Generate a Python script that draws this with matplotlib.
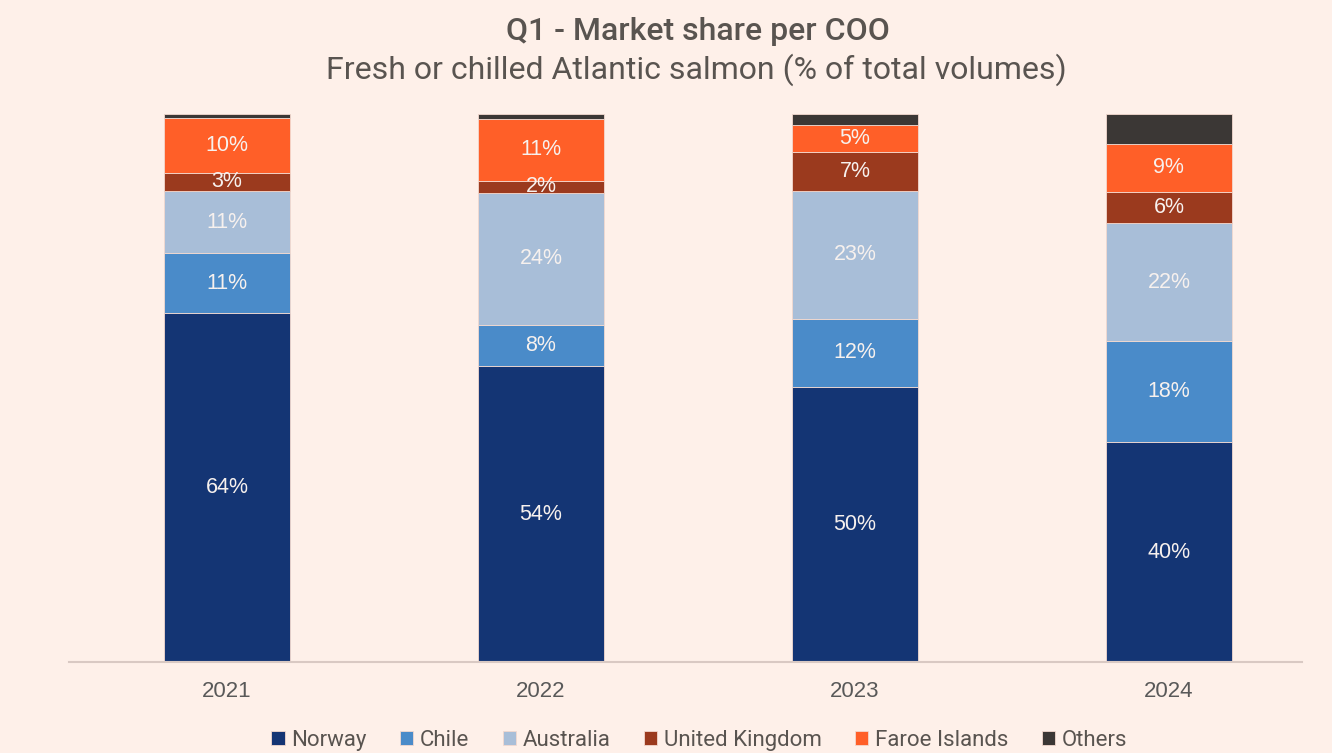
import matplotlib.pyplot as plt
import numpy as np

years = ["2021", "2022", "2023", "2024"]
countries = ["Norway", "Chile", "Australia", "United Kingdom", "Faroe Islands", "Others"]
norway = [63.7, 54.0, 50.2, 40.1]
chile = [10.9, 7.5, 12.4, 18.4]
australia = [11.3, 24.1, 23.4, 21.6]
uk = [3.4, 2.2, 7.1, 5.7]
faroe = [10.0, 11.3, 4.9, 8.8]
others = [0.7, 0.9, 2.0, 5.4]

series = [norway, chile, australia, uk, faroe, others]
colors = ["#143574", "#4A8BC9", "#A8BED8", "#9B3A1E", "#FF5F28", "#3B3735"]
bg = "#FEF0E9"
txt = "#595450"

fig = plt.figure(figsize=(13.32, 7.53), dpi=100, facecolor=bg)
ax = fig.add_axes([0.0518, 0.1208, 0.9257, 0.7278], facecolor=bg)

x = np.arange(len(years))
bottom = np.zeros(len(years))
for name, vals, col in zip(countries, series, colors):
    vals = np.array(vals)
    ax.bar(x, vals, 0.4, bottom=bottom, color=col, label=name,
           edgecolor="#F3D9CF", linewidth=0.6)
    if name != "Others":
        for xi, b, v in zip(x, bottom, vals):
            ax.text(xi, b + v / 2, f"{round(v):.0f}%", ha="center", va="center",
                    color="#F7F1EE", fontsize=15.5, family="Liberation Sans")
    bottom += vals

ax.set_xlim(-0.503, 3.424)
ax.set_ylim(0, 100)
ax.set_xticks(x)
ax.set_xticklabels(years, fontsize=16, color="#595959", family="Liberation Sans")
ax.tick_params(axis="x", length=0, pad=14)
ax.set_yticks([])
for s in ["top", "right", "left"]:
    ax.spines[s].set_visible(False)
ax.spines["bottom"].set_color("#D9C9C3")
ax.spines["bottom"].set_linewidth(1.5)

fig.text(0.524, 0.958, "Q1 - Market share per COO", ha="center", va="center",
         fontsize=23, color=txt, fontweight="medium", family="Roboto")
fig.text(0.523, 0.908, "Fresh or chilled Atlantic salmon (% of total volumes)",
         ha="center", va="center", fontsize=23, color=txt, family="Roboto")

leg = fig.legend(loc="center", bbox_to_anchor=(0.525, 0.017), ncol=6, frameon=False,
                 handlelength=0.6, handleheight=0.6, handletextpad=0.3,
                 columnspacing=1.5, prop={"family": "Roboto", "size": 16})
for t in leg.get_texts():
    t.set_color(txt)

fig.savefig("out.png", dpi=100, facecolor=bg)
